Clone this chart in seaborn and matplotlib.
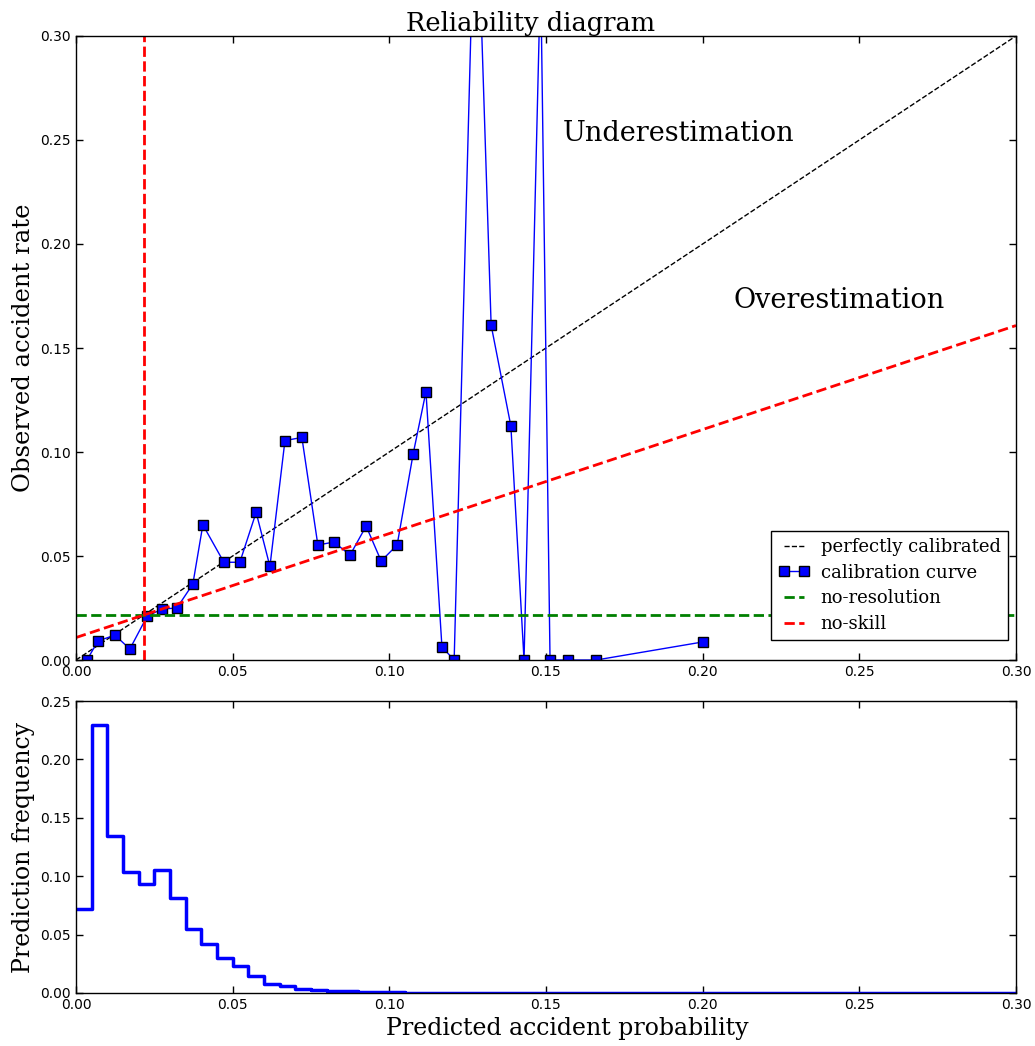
import numpy as np
import pandas as pd
import matplotlib
matplotlib.use("Agg")
import matplotlib.pyplot as plt
import seaborn as sns

# --- dane ---
pred_prob = [0.0035, 0.0070, 0.0124, 0.0172, 0.0227, 0.0274, 0.0322, 0.0373, 0.0405,
             0.0472, 0.0523, 0.0575, 0.0619, 0.0667, 0.0721, 0.0772, 0.0823, 0.0875,
             0.0926, 0.0974, 0.1025, 0.1076, 0.1117, 0.1168, 0.1207, 0.1276, 0.1325,
             0.1388, 0.1430, 0.1483, 0.1513, 0.1570, 0.1660, 0.2001]
obs_rate = [0.0, 0.0091, 0.0120, 0.0053, 0.0210, 0.0245, 0.0250, 0.0365, 0.0650,
            0.0470, 0.0470, 0.0710, 0.0450, 0.1055, 0.1070, 0.0553, 0.0567, 0.0505,
            0.0644, 0.0476, 0.0553, 0.0990, 0.1290, 0.0063, 0.0, 0.391, 0.1610,
            0.1125, 0.0, 0.331, 0.0, 0.0, 0.0, 0.0087]

base_rate = 0.0216

hist_freq = [0.0719, 0.2296, 0.1346, 0.1032, 0.0935, 0.1049, 0.0813, 0.0550, 0.0420,
             0.0300, 0.0228, 0.0142, 0.0077, 0.0057, 0.0037, 0.0028, 0.0018, 0.0013,
             0.0009, 0.0007, 0.0005, 0.0004, 0.0003, 0.0002, 0.0002, 0.0001]
bin_width = 0.005

n_bins = int(round(0.3 / bin_width))
freq_full = np.zeros(n_bins)
freq_full[:len(hist_freq)] = hist_freq
centers = np.arange(n_bins) * bin_width + bin_width / 2

df_cal = pd.DataFrame({"pred": pred_prob, "obs": obs_rate})
df_hist = pd.DataFrame({"center": centers, "freq": freq_full})

sns.set_style("ticks")
plt.rcParams["xtick.direction"] = "in"
plt.rcParams["ytick.direction"] = "in"
plt.rcParams["xtick.top"] = True
plt.rcParams["ytick.right"] = True
plt.rcParams["font.size"] = 10
for key in ["text.color", "axes.labelcolor", "xtick.color", "ytick.color", "axes.edgecolor"]:
    plt.rcParams[key] = "black"

fig = plt.figure(figsize=(10.35, 10.46), dpi=100)
ax1 = fig.add_axes([0.0734, 0.369, 0.9082, 0.5966])
ax2 = fig.add_axes([0.0734, 0.0507, 0.9082, 0.2791])

serif = "DejaVu Serif"

# linia idealnej kalibracji
ax1.plot([0, 0.3], [0, 0.3], "k--", lw=1, label="perfectly calibrated")
sns.lineplot(data=df_cal, x="pred", y="obs", ax=ax1, sort=False, color="blue",
             lw=1, marker="s", markersize=7.5, markerfacecolor="blue",
             markeredgecolor="black", markeredgewidth=1, label="calibration curve")
ax1.plot([0, 0.3], [base_rate, base_rate], "g--", lw=2, label="no-resolution")
ax1.plot([0, 0.3], [base_rate / 2, (0.3 + base_rate) / 2], "r--", lw=2, label="no-skill")
ax1.plot([base_rate, base_rate], [0, 0.3], "r--", lw=2)

ax1.text(0.1554, 0.253, "Underestimation", fontsize=19.5, family=serif, va="center")
ax1.text(0.2097, 0.1726, "Overestimation", fontsize=19.5, family=serif, va="center")

ax1.set_xlim(0, 0.3)
ax1.set_ylim(0, 0.3)
ax1.set_xticks(np.arange(0, 0.301, 0.05))
ax1.set_yticks(np.arange(0, 0.301, 0.05))
ax1.set_xlabel("")
ax1.set_ylabel("Observed accident rate", fontsize=17.5, family=serif)
ax1.set_title("Reliability diagram", fontsize=18.5, family=serif, pad=3, x=0.484)
leg = ax1.legend(loc="lower right", bbox_to_anchor=(0.9915, 0.032), borderaxespad=0,
                 numpoints=2, fancybox=False, framealpha=1, edgecolor="black",
                 prop={"family": serif, "size": 13}, handlelength=1.75, borderpad=0.4,
                 labelspacing=0.42, handletextpad=0.6)
leg.get_frame().set_linewidth(1)

sns.histplot(data=df_hist, x="center", weights="freq", binwidth=bin_width,
             binrange=(0, 0.3), element="step", fill=False, color="blue", lw=2.5, ax=ax2)
ax2.set_xlim(0, 0.3)
ax2.set_ylim(0, 0.25)
ax2.set_xticks(np.arange(0, 0.301, 0.05))
ax2.set_yticks(np.arange(0, 0.251, 0.05))
ax2.set_xlabel("Predicted accident probability", fontsize=17, family=serif, x=0.523)
ax2.set_ylabel("Prediction frequency", fontsize=17, family=serif)

for ax in (ax1, ax2):
    ax.xaxis.set_major_formatter(matplotlib.ticker.FormatStrFormatter("%.2f"))
    ax.yaxis.set_major_formatter(matplotlib.ticker.FormatStrFormatter("%.2f"))
    ax.tick_params(length=5, width=1, labelsize=10)
    for spine in ax.spines.values():
        spine.set_visible(True)
        spine.set_linewidth(1)

fig.savefig("out.png", dpi=100, facecolor="white")
